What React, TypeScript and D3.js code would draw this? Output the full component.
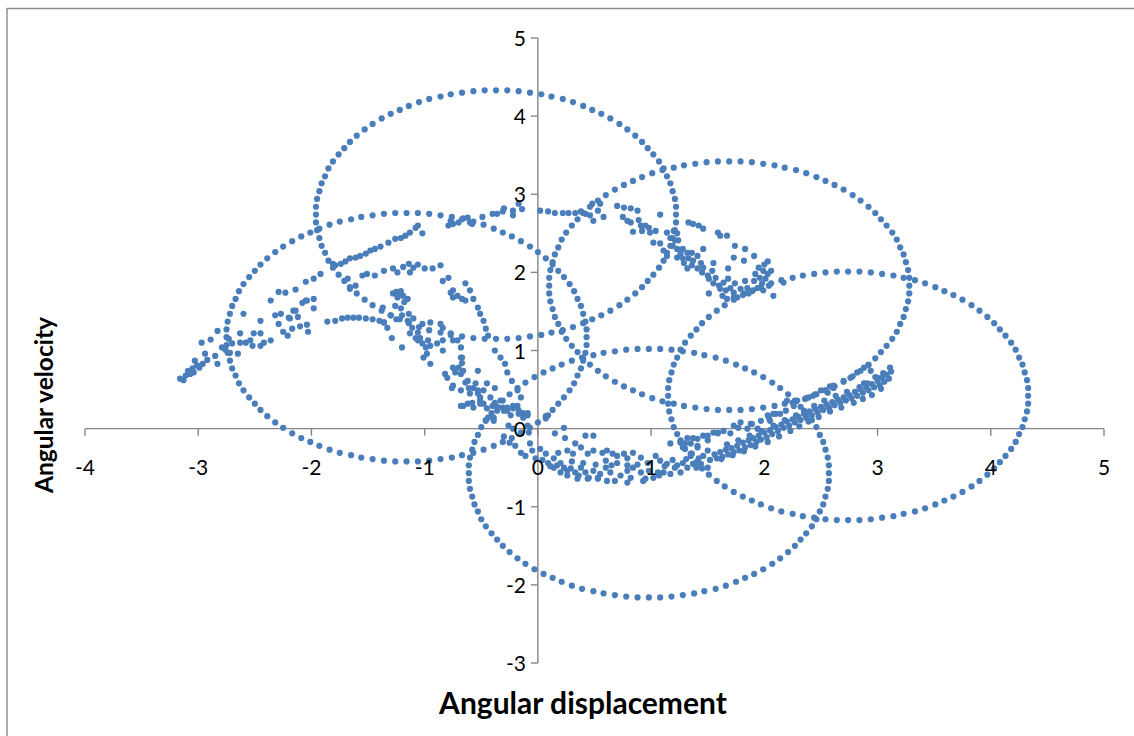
import React from "react";
import * as d3 from "d3";

// ---- axis configuration (values only) ----
const xTicks = [-4, -3, -2, -1, 0, 1, 2, 3, 4, 5];
const yTicks = [-3, -2, -1, 0, 1, 2, 3, 4, 5];
const xTitle = "Angular displacement";
const yTitle = "Angular velocity";

// ---- series: closed orbits ----
const orbitA: [number, number][] = [
  [1.22,2.74],[1.22,2.84],[1.21,2.94],[1.19,3.04],[1.17,3.14],[1.14,3.23],[1.11,3.33],[1.07,3.42],[1.02,3.51],[0.97,3.59],[0.92,3.67],[0.86,3.75],[0.79,3.83],[0.72,3.90],[0.64,3.97],[0.56,4.03],[0.48,4.08],[0.40,4.13],[0.31,4.18],[0.22,4.22],[0.12,4.25],[0.03,4.28],[-0.07,4.30],[-0.17,4.32],[-0.27,4.33],[-0.37,4.33],
  [-0.47,4.33],[-0.57,4.32],[-0.67,4.30],[-0.77,4.28],[-0.86,4.25],[-0.96,4.22],[-1.05,4.18],[-1.14,4.13],[-1.22,4.08],[-1.30,4.03],[-1.38,3.97],[-1.46,3.90],[-1.53,3.83],[-1.60,3.75],[-1.66,3.67],[-1.71,3.59],[-1.76,3.51],[-1.81,3.42],[-1.85,3.33],[-1.88,3.23],[-1.91,3.14],[-1.93,3.04],[-1.95,2.94],[-1.96,2.84],[-1.96,2.74],
  [-1.96,2.64],[-1.95,2.54],[-1.93,2.44],[-1.91,2.34],[-1.88,2.25],[-1.85,2.15],[-1.81,2.06],[-1.76,1.97],[-1.71,1.89],[-1.66,1.81],[-1.60,1.73],[-1.53,1.65],[-1.46,1.58],[-1.38,1.51],[-1.30,1.45],[-1.22,1.40],[-1.14,1.35],[-1.05,1.30],[-0.96,1.26],[-0.86,1.23],[-0.77,1.20],[-0.67,1.18],[-0.57,1.16],[-0.47,1.15],[-0.37,1.15],
  [-0.27,1.15],[-0.17,1.16],[-0.07,1.18],[0.03,1.20],[0.12,1.23],[0.22,1.26],[0.31,1.30],[0.40,1.35],[0.48,1.40],[0.56,1.45],[0.64,1.51],[0.72,1.58],[0.79,1.65],[0.86,1.73],[0.92,1.81],[0.97,1.89],[1.02,1.97],[1.07,2.06],[1.11,2.15],[1.14,2.25],[1.17,2.34],[1.19,2.44],[1.21,2.54],[1.22,2.64],
];
const orbitB: [number, number][] = [
  [0.43,1.17],[0.43,1.27],[0.42,1.37],[0.40,1.47],[0.38,1.57],[0.35,1.66],[0.32,1.76],[0.28,1.85],[0.23,1.94],[0.18,2.02],[0.13,2.10],[0.07,2.18],[0.00,2.26],[-0.07,2.33],[-0.15,2.40],[-0.23,2.46],[-0.31,2.51],[-0.39,2.56],[-0.48,2.61],[-0.57,2.65],[-0.67,2.68],[-0.76,2.71],[-0.86,2.73],[-0.96,2.75],[-1.06,2.76],[-1.16,2.76],
  [-1.26,2.76],[-1.36,2.75],[-1.46,2.73],[-1.56,2.71],[-1.65,2.68],[-1.75,2.65],[-1.84,2.61],[-1.93,2.56],[-2.01,2.51],[-2.09,2.46],[-2.17,2.40],[-2.25,2.33],[-2.32,2.26],[-2.39,2.18],[-2.45,2.10],[-2.50,2.02],[-2.55,1.94],[-2.60,1.85],[-2.64,1.76],[-2.67,1.66],[-2.70,1.57],[-2.72,1.47],[-2.74,1.37],[-2.75,1.27],[-2.75,1.17],
  [-2.75,1.07],[-2.74,0.97],[-2.72,0.87],[-2.70,0.77],[-2.67,0.68],[-2.64,0.58],[-2.60,0.49],[-2.55,0.40],[-2.50,0.32],[-2.45,0.24],[-2.39,0.16],[-2.32,0.08],[-2.25,0.01],[-2.17,-0.06],[-2.09,-0.12],[-2.01,-0.17],[-1.93,-0.22],[-1.84,-0.27],[-1.75,-0.31],[-1.65,-0.34],[-1.56,-0.37],[-1.46,-0.39],[-1.36,-0.41],[-1.26,-0.42],[-1.16,-0.42],
  [-1.06,-0.42],[-0.96,-0.41],[-0.86,-0.39],[-0.76,-0.37],[-0.67,-0.34],[-0.57,-0.31],[-0.48,-0.27],[-0.39,-0.22],[-0.31,-0.17],[-0.23,-0.12],[-0.15,-0.06],[-0.07,0.01],[0.00,0.08],[0.07,0.16],[0.13,0.24],[0.18,0.32],[0.23,0.40],[0.28,0.49],[0.32,0.58],[0.35,0.68],[0.38,0.77],[0.40,0.87],[0.42,0.97],[0.43,1.07],
];
const orbitC: [number, number][] = [
  [3.28,1.83],[3.28,1.93],[3.27,2.03],[3.25,2.13],[3.23,2.23],[3.20,2.32],[3.17,2.42],[3.13,2.51],[3.08,2.60],[3.03,2.68],[2.98,2.76],[2.92,2.84],[2.85,2.92],[2.78,2.99],[2.70,3.06],[2.62,3.12],[2.54,3.17],[2.46,3.22],[2.37,3.27],[2.28,3.31],[2.18,3.34],[2.09,3.37],[1.99,3.39],[1.89,3.41],[1.79,3.42],[1.69,3.42],
  [1.59,3.42],[1.49,3.41],[1.39,3.39],[1.29,3.37],[1.20,3.34],[1.10,3.31],[1.01,3.27],[0.92,3.22],[0.84,3.17],[0.76,3.12],[0.68,3.06],[0.60,2.99],[0.53,2.92],[0.46,2.84],[0.40,2.76],[0.35,2.68],[0.30,2.60],[0.25,2.51],[0.21,2.42],[0.18,2.32],[0.15,2.23],[0.13,2.13],[0.11,2.03],[0.10,1.93],[0.10,1.83],
  [0.10,1.73],[0.11,1.63],[0.13,1.53],[0.15,1.43],[0.18,1.34],[0.21,1.24],[0.25,1.15],[0.30,1.06],[0.35,0.98],[0.40,0.90],[0.46,0.82],[0.53,0.74],[0.60,0.67],[0.68,0.60],[0.76,0.54],[0.84,0.49],[0.92,0.44],[1.01,0.39],[1.10,0.35],[1.20,0.32],[1.29,0.29],[1.39,0.27],[1.49,0.25],[1.59,0.24],[1.69,0.24],
  [1.79,0.24],[1.89,0.25],[1.99,0.27],[2.09,0.29],[2.18,0.32],[2.28,0.35],[2.37,0.39],[2.46,0.44],[2.54,0.49],[2.62,0.54],[2.70,0.60],[2.78,0.67],[2.85,0.74],[2.92,0.82],[2.98,0.90],[3.03,0.98],[3.08,1.06],[3.13,1.15],[3.17,1.24],[3.20,1.34],[3.23,1.43],[3.25,1.53],[3.27,1.63],[3.28,1.73],
];
const orbitD: [number, number][] = [
  [4.33,0.42],[4.33,0.52],[4.32,0.62],[4.30,0.72],[4.28,0.82],[4.25,0.91],[4.22,1.01],[4.18,1.10],[4.13,1.19],[4.08,1.27],[4.03,1.35],[3.97,1.43],[3.90,1.51],[3.83,1.58],[3.75,1.65],[3.67,1.71],[3.59,1.76],[3.51,1.81],[3.42,1.86],[3.33,1.90],[3.23,1.93],[3.14,1.96],[3.04,1.98],[2.94,2.00],[2.84,2.01],[2.74,2.01],
  [2.64,2.01],[2.54,2.00],[2.44,1.98],[2.34,1.96],[2.25,1.93],[2.15,1.90],[2.06,1.86],[1.97,1.81],[1.89,1.76],[1.81,1.71],[1.73,1.65],[1.65,1.58],[1.58,1.51],[1.51,1.43],[1.45,1.35],[1.40,1.27],[1.35,1.19],[1.30,1.10],[1.26,1.01],[1.23,0.91],[1.20,0.82],[1.18,0.72],[1.16,0.62],[1.15,0.52],[1.15,0.42],
  [1.15,0.32],[1.16,0.22],[1.18,0.12],[1.20,0.02],[1.23,-0.07],[1.26,-0.17],[1.30,-0.26],[1.35,-0.35],[1.40,-0.43],[1.45,-0.51],[1.51,-0.59],[1.58,-0.67],[1.65,-0.74],[1.73,-0.81],[1.81,-0.87],[1.89,-0.92],[1.97,-0.97],[2.06,-1.02],[2.15,-1.06],[2.25,-1.09],[2.34,-1.12],[2.44,-1.14],[2.54,-1.16],[2.64,-1.17],[2.74,-1.17],
  [2.84,-1.17],[2.94,-1.16],[3.04,-1.14],[3.14,-1.12],[3.23,-1.09],[3.33,-1.06],[3.42,-1.02],[3.51,-0.97],[3.59,-0.92],[3.67,-0.87],[3.75,-0.81],[3.83,-0.74],[3.90,-0.67],[3.97,-0.59],[4.03,-0.51],[4.08,-0.43],[4.13,-0.35],[4.18,-0.26],[4.22,-0.17],[4.25,-0.07],[4.28,0.02],[4.30,0.12],[4.32,0.22],[4.33,0.32],
];
const orbitE: [number, number][] = [
  [2.57,-0.57],[2.57,-0.47],[2.56,-0.37],[2.54,-0.27],[2.52,-0.17],[2.49,-0.08],[2.46,0.02],[2.42,0.11],[2.37,0.20],[2.32,0.28],[2.27,0.36],[2.21,0.44],[2.14,0.52],[2.07,0.59],[1.99,0.66],[1.91,0.72],[1.83,0.77],[1.75,0.82],[1.66,0.87],[1.57,0.91],[1.47,0.94],[1.38,0.97],[1.28,0.99],[1.18,1.01],[1.08,1.02],[0.98,1.02],
  [0.88,1.02],[0.78,1.01],[0.68,0.99],[0.58,0.97],[0.49,0.94],[0.39,0.91],[0.30,0.87],[0.21,0.82],[0.13,0.77],[0.05,0.72],[-0.03,0.66],[-0.11,0.59],[-0.18,0.52],[-0.25,0.44],[-0.31,0.36],[-0.36,0.28],[-0.41,0.20],[-0.46,0.11],[-0.50,0.02],[-0.53,-0.08],[-0.56,-0.17],[-0.58,-0.27],[-0.60,-0.37],[-0.61,-0.47],[-0.61,-0.57],
  [-0.61,-0.67],[-0.60,-0.77],[-0.58,-0.87],[-0.56,-0.97],[-0.53,-1.06],[-0.50,-1.16],[-0.46,-1.25],[-0.41,-1.34],[-0.36,-1.42],[-0.31,-1.50],[-0.25,-1.58],[-0.18,-1.66],[-0.11,-1.73],[-0.03,-1.80],[0.05,-1.86],[0.13,-1.91],[0.21,-1.96],[0.30,-2.01],[0.39,-2.05],[0.49,-2.08],[0.58,-2.11],[0.68,-2.13],[0.78,-2.15],[0.88,-2.16],[0.98,-2.16],
  [1.08,-2.16],[1.18,-2.15],[1.28,-2.13],[1.38,-2.11],[1.47,-2.08],[1.57,-2.05],[1.66,-2.01],[1.75,-1.96],[1.83,-1.91],[1.91,-1.86],[1.99,-1.80],[2.07,-1.73],[2.14,-1.66],[2.21,-1.58],[2.27,-1.50],[2.32,-1.42],[2.37,-1.34],[2.42,-1.25],[2.46,-1.16],[2.49,-1.06],[2.52,-0.97],[2.54,-0.87],[2.56,-0.77],[2.57,-0.67],
];

// ---- series: chaotic trajectory, split by region ----
const tailPts: [number, number][] = [
  [-3.16,0.64],[-3.13,0.62],[-3.11,0.68],[-3.09,0.74],[-3.07,0.70],[-3.05,0.77],[-3.04,0.72],[-3.01,0.81],[-2.99,0.78],[-2.96,0.83],[-3.03,0.87],[-2.94,0.96],[-2.92,0.88],[-2.97,1.10],[-2.89,1.14],[-2.85,0.93],[-2.83,1.25],[-2.83,0.83],[-2.79,1.04],[-2.76,1.01],[-2.73,1.15],[-2.72,0.97],[-2.70,1.09],[-2.65,0.96],[-2.63,1.10],[-2.58,1.10],[-2.54,1.13],[-2.51,1.22],[-2.52,1.06],[-2.45,1.22],[-2.45,1.06],[-2.42,1.10],[-2.36,1.13],[-2.45,1.38],[-2.63,1.22],[-2.29,1.34],[-2.32,1.45],[-2.27,1.47],[-2.16,1.51],[-2.12,1.43],[-2.19,1.41],[-2.25,1.24],[-2.21,1.19],[-2.17,1.28],[-2.10,1.31],[-2.04,1.33],[-2.03,1.24],[-1.98,1.54],[-1.86,1.37],[-1.79,1.38],[-1.73,1.41],[-1.68,1.42],[-1.63,1.42],[-2.08,1.61],[-2.04,1.64],[-2.60,1.47],[-1.58,1.42],[-1.52,1.41],[-1.46,1.40],[-1.40,1.38],[-1.36,1.36],
];
const upperBandPts: [number, number][] = [
  [-2.36,1.64],[-2.29,1.75],[-2.23,1.74],[-2.14,1.78],[-2.05,1.88],[-1.98,1.92],[-1.92,1.98],[-1.81,2.11],[-1.79,2.09],[-1.74,2.11],[-1.70,2.14],[-1.66,2.18],[-1.61,2.19],[-1.57,2.21],[-1.52,2.24],[-1.48,2.28],[-1.44,2.30],[-1.39,2.33],[-1.32,2.38],[-1.26,2.43],[-1.21,2.44],[-1.17,2.47],[-1.13,2.51],[-1.08,2.57],[-1.06,2.60],[-1.02,2.50],[-0.79,2.60],[-0.75,2.62],[-0.70,2.64],[-0.66,2.69],[-0.62,2.70],[-0.60,2.64],[-0.58,2.62],[-0.77,2.66],[-0.49,2.71],[-0.40,2.75],[-0.36,2.75],[-0.31,2.78],[-0.30,2.82],[-0.22,2.79],[-0.17,2.88],[-0.14,2.81],[-0.22,2.73],[-1.98,1.66],[-2.05,1.64],[-2.14,1.51],[-2.20,1.42],
  [0.02,2.79],[0.09,2.78],[0.15,2.76],[0.22,2.76],[0.27,2.76],[0.33,2.76],[0.38,2.78],[0.42,2.75],[0.46,2.73],[0.49,2.66],[0.48,2.88],[0.53,2.79],[0.55,2.88],[0.58,2.71],[0.70,2.85],[0.76,2.83],[0.82,2.82],[0.88,2.79],[0.75,2.71],[0.79,2.66],[0.82,2.64],[0.89,2.67],[0.91,2.60],[0.92,2.53],[0.95,2.60],[0.98,2.57],[0.99,2.51],[1.04,2.53],[0.84,2.52],[1.08,2.74],[1.02,2.38],
];
const topRightPts: [number, number][] = [
  [1.14,2.51],[1.17,2.44],[1.20,2.53],[1.23,2.50],[1.21,2.41],[1.24,2.41],[1.08,2.37],[1.11,2.28],[1.14,2.21],[1.19,2.34],[1.23,2.30],[1.26,2.24],[1.28,2.30],[1.28,2.18],[1.32,2.25],[1.33,2.18],[1.36,2.25],[1.37,2.15],[1.36,2.09],[1.41,2.21],[1.41,2.05],[1.44,2.12],[1.45,2.00],[1.46,2.06],[1.50,1.96],[1.51,1.92],[1.54,2.02],[1.55,2.12],[1.57,1.93],[1.55,1.86],[1.60,1.83],[1.61,1.79],[1.64,1.87],[1.66,1.77],[1.68,1.92],[1.70,1.80],[1.73,1.74],[1.74,1.86],[1.76,1.68],[1.79,1.79],[1.82,1.73],[1.83,1.89],[1.85,1.80],[1.86,1.73],[1.90,1.77],[1.91,1.89],[1.92,1.98],[1.94,1.80],[1.95,2.06],[1.96,1.93],[1.98,1.86],[1.99,2.02],[2.01,1.92],[2.03,1.98],[2.04,1.83],[1.99,1.77],[2.08,1.70],[2.17,1.87],[1.82,2.15],[1.83,2.30],[1.74,2.34],[1.73,2.19],[1.68,2.05],[1.91,2.21],[1.59,2.51],[1.61,2.47],[1.67,2.47],[1.46,2.30],[1.33,2.64],[1.37,2.62],[1.42,2.60],[1.46,2.56],[1.51,1.73],[1.63,1.70],[1.67,1.66],[1.73,1.68],[1.29,2.12],[1.32,2.05],[1.23,2.19],[2.03,2.14],[2.00,2.10],[2.06,2.02],
];
const middleArcPts: [number, number][] = [
  [-1.68,1.92],[-1.66,1.79],[-1.61,1.83],[-1.55,1.96],[-1.51,1.98],[-1.44,1.96],[-1.36,2.02],[-1.28,2.05],[-1.24,2.00],[-1.19,2.07],[-1.14,2.11],[-1.10,2.06],[-1.13,2.00],[-1.06,2.10],[-1.00,2.05],[-0.93,2.05],[-0.86,2.09],[-0.84,1.89],[-0.79,1.93],[-0.75,1.77],[-0.71,1.70],[-0.64,1.86],[-0.60,1.77],[-0.57,1.66],[-0.53,1.55],[-0.51,1.47],[-0.48,1.38],[-0.46,1.28],[-0.44,1.19],[-0.38,1.00],[-0.33,0.91],[-0.29,0.83],[-0.27,0.72],[-0.23,0.61],[-0.18,0.49],[-0.15,0.40],[-0.77,1.74],[-0.75,1.68],[-0.67,1.66],[-0.64,1.64],
];
const leftClusterPts: [number, number][] = [
  [-1.28,1.73],[-1.23,1.70],[-1.19,1.70],[-1.15,1.66],[-1.26,1.57],[-1.21,1.54],[-1.20,1.45],[-1.15,1.38],[-1.14,1.47],[-1.10,1.41],[-1.11,1.29],[-1.06,1.23],[-1.04,1.16],[-1.02,1.09],[-0.99,1.04],[-0.97,1.13],[-0.95,1.06],[-0.98,0.96],[-0.95,0.83],[-1.01,0.91],[-1.13,1.22],[-1.08,1.16],[-1.06,1.13],[-1.20,1.04],[-1.29,1.16],[-1.36,1.36],[-1.33,1.29],[-1.37,1.55],[-0.84,1.00],[-0.82,0.70],[-0.75,0.55],[-0.77,1.22],[-0.71,1.13],[-0.86,1.34],[-0.84,1.29],[-0.95,1.36],[-1.02,1.34],[-1.25,1.75],[-1.21,1.76],[-1.24,1.68],[-1.18,1.62],[-1.30,1.45],[-1.25,1.40],[-0.89,1.09],[-0.84,1.13],[-0.75,1.13],[-0.68,1.04],[-0.67,0.91],[-0.75,0.78],[-0.68,0.70],[-0.62,0.61],[-0.57,0.52],[-0.53,0.45],[-0.51,0.36],
];
const originPts: [number, number][] = [
  [-0.68,0.91],[-0.67,0.84],[-0.70,0.78],[-0.66,0.74],[-0.73,0.72],[-0.80,0.65],[-0.76,0.52],[-0.68,0.49],[-0.64,0.59],[-0.61,0.52],[-0.60,0.45],[-0.55,0.58],[-0.53,0.49],[-0.53,0.74],[-0.51,0.40],[-0.48,0.49],[-0.45,0.58],[-0.42,0.40],[-0.38,0.52],[-0.38,0.33],[-0.35,0.27],[-0.33,0.36],[-0.30,0.23],[-0.27,0.27],[-0.24,0.17],[-0.22,0.26],[-0.18,0.29],[-0.17,0.19],[-0.13,0.14],[-0.09,0.20],[-0.44,0.14],[-0.39,0.10],[-0.48,0.32],[-0.66,0.29],[-0.58,0.33],
  [-0.68,0.29],[-0.62,0.32],[-0.57,0.27],[-0.51,0.32],[-0.45,0.26],[-0.40,0.29],[-0.36,0.23],[-0.31,0.27],[-0.27,0.23],[-0.22,0.29],[-0.17,0.23],[-0.13,0.20],[-0.09,0.17],[-0.46,0.10],[-0.39,0.14],[-0.26,0.04],[-0.22,0.00],[-0.09,0.04],[-0.08,-0.05],[-0.15,-0.05],[-0.30,-0.10],[-0.25,-0.18],[-0.20,-0.22],
];
const bottomBandPts: [number, number][] = [
  [-0.15,-0.31],[-0.11,-0.35],[-0.07,-0.19],[-0.05,-0.28],[-0.02,-0.38],[0.02,-0.26],[0.07,-0.32],[0.09,-0.44],[0.14,-0.38],[0.17,-0.47],[0.20,-0.44],[0.23,-0.50],[0.26,-0.54],[0.29,-0.51],[0.33,-0.56],[0.36,-0.60],[0.38,-0.50],[0.42,-0.56],[0.45,-0.63],[0.49,-0.54],[0.53,-0.64],[0.55,-0.58],[0.60,-0.50],[0.64,-0.56],[0.68,-0.67],[0.61,-0.67],[0.73,-0.60],[0.79,-0.54],[0.82,-0.63],[0.84,-0.50],[0.91,-0.56],[0.95,-0.64],[0.98,-0.54],[1.02,-0.63],[1.07,-0.60],[1.11,-0.56],[1.14,-0.45],[1.17,-0.58],[1.21,-0.50],[1.26,-0.56],[1.28,-0.44],[1.32,-0.50],[1.37,-0.45],[1.42,-0.38],[1.46,-0.35],[1.50,-0.50],
  [0.18,-0.31],[0.26,-0.28],[0.31,-0.32],[0.38,-0.24],[0.44,-0.32],[0.49,-0.28],[0.57,-0.31],[0.61,-0.28],[0.66,-0.32],[0.70,-0.35],[0.76,-0.32],[0.79,-0.38],[0.84,-0.31],[0.91,-0.37],[1.04,-0.35],[1.08,-0.41],[0.24,-0.12],[0.33,-0.19],[0.42,-0.09],[0.49,-0.09],[0.60,-0.41],[0.70,-0.44],[0.79,-0.47],[0.14,-0.50],[0.20,-0.56],[0.26,-0.60],[0.35,-0.64],[0.44,-0.64],[0.53,-0.63],[0.79,-0.69],[0.93,-0.67],[1.06,-0.56],[1.23,-0.47],[1.35,-0.32],[1.41,-0.22],[1.35,-0.19],[1.28,-0.24],[1.26,-0.18],[1.44,-0.45],[1.50,-0.28],[0.15,-0.06],[0.23,0.01],[0.07,0.13],[0.09,0.17],
  [0.04,-0.40],[0.11,-0.48],[0.30,-0.42],[0.40,-0.44],[0.51,-0.46],[0.65,-0.47],[0.88,-0.46],[0.97,-0.44],[1.12,-0.48],[1.19,-0.40],[1.31,-0.39],[1.40,-0.50],
];
const risingBandPts: [number, number][] = [
  [1.52,-0.40],[1.56,-0.33],[1.58,-0.38],[1.61,-0.30],[1.63,-0.36],[1.66,-0.27],[1.68,-0.33],[1.71,-0.25],[1.73,-0.30],[1.76,-0.22],[1.78,-0.28],[1.81,-0.18],[1.83,-0.24],[1.86,-0.15],[1.88,-0.21],[1.90,-0.12],[1.93,-0.17],[1.95,-0.09],[1.97,-0.14],[2.00,-0.05],[2.02,-0.11],[2.05,-0.02],[2.07,-0.07],[2.10,0.02],[2.12,-0.03],[2.15,0.05],[2.17,0.01],[2.20,0.09],[2.22,0.04],[2.25,0.12],[2.27,0.08],[2.30,0.15],[2.32,0.11],[2.35,0.19],[2.37,0.14],[2.40,0.22],[2.42,0.17],[2.45,0.25],[2.47,0.21],[2.50,0.28],[2.52,0.24],[2.55,0.31],[2.57,0.27],[2.60,0.34],[2.62,0.30],[2.65,0.37],[2.67,0.33],[2.70,0.40],[2.72,0.36],[2.75,0.43],[2.77,0.39],[2.80,0.47],[2.82,0.42],[2.85,0.50],[2.87,0.46],[2.90,0.53],[2.92,0.49],[2.95,0.57],[2.97,0.53],[3.00,0.61],[3.02,0.56],[3.04,0.65],[3.06,0.60],[3.08,0.69],[3.10,0.64],[3.12,0.73],[3.11,0.78],[3.05,0.71],[2.98,0.66],[2.88,0.58],
  [1.62,-0.39],[1.72,-0.34],[1.82,-0.29],[1.92,-0.23],[2.03,-0.17],[2.13,-0.10],[2.23,-0.03],[2.31,0.03],[2.39,0.09],[2.48,0.15],[2.58,0.22],[2.68,0.27],[2.79,0.33],[2.87,0.38],[2.95,0.43],[3.03,0.51],
  [1.67,-0.20],[1.77,-0.15],[1.87,-0.09],[1.97,-0.03],[2.08,0.04],[2.18,0.11],[2.28,0.17],[2.35,0.23],[2.44,0.29],[2.53,0.36],[2.63,0.42],[2.73,0.47],[2.84,0.53],[2.91,0.58],[3.00,0.65],
  [2.14,0.19],[2.19,0.23],[2.25,0.33],[2.29,0.36],[2.36,0.38],[2.39,0.40],[2.45,0.44],[2.54,0.49],[2.58,0.54],[2.61,0.55],[2.70,0.61],[2.76,0.65],[2.82,0.72],[2.88,0.78],[2.92,0.81],[2.94,0.74],[2.20,0.36],[2.26,0.29],[2.43,0.42],[2.50,0.49],[2.56,0.46],[2.61,0.52],[1.88,0.06],[1.97,0.10],[2.04,0.14],[2.08,0.19],
  [1.30,-0.19],[1.37,-0.12],[1.46,-0.09],[1.55,-0.05],[1.59,-0.06],[1.50,-0.15],[1.41,-0.24],[1.36,-0.32],[1.70,-0.06],[1.77,0.01],[1.85,0.00],[1.89,0.06],[1.94,0.00],[2.03,0.17],[2.05,0.10],[2.10,0.19],[1.17,-0.19],[1.26,-0.15],[1.32,-0.12],[1.41,-0.13],[1.50,-0.09],[1.59,-0.05],[1.64,-0.03],[1.73,0.04],[1.79,0.08],
];

const seriesColor = "#4A7EBB";
const axisColor = "#868686";
const FONT = "Lato, 'Open Sans', sans-serif";

export default function App() {
  const W = 1134;
  const H = 736;
  const x = d3.scaleLinear().domain([-4, 5]).range([85, 1104]);
  const y = d3.scaleLinear().domain([-3, 5]).range([663, 38]);
  const x0 = x(0);
  const y0 = y(0);

  const allPts = [
    ...orbitA, ...orbitB, ...orbitC, ...orbitD, ...orbitE,
    ...tailPts, ...upperBandPts, ...topRightPts, ...middleArcPts,
    ...leftClusterPts, ...originPts, ...bottomBandPts, ...risingBandPts,
  ];

  return (
    <div style={{ position: "absolute", left: 0, top: 0 }}>
      <svg width={W} height={H} style={{ display: "block", background: "#fff" }}>
        <rect x={7} y={8.5} width={1140} height={750} fill="#fff" stroke="#898989" strokeWidth={1.4} />

        {/* axes */}
        <line x1={x(-4)} x2={x(5)} y1={y0} y2={y0} stroke={axisColor} strokeWidth={1.4} />
        <line x1={x0} x2={x0} y1={y(5)} y2={y(-3)} stroke={axisColor} strokeWidth={1.4} />
        {xTicks.map((t) => (
          <line key={"xt" + t} x1={x(t)} x2={x(t)} y1={y0} y2={y0 + 7} stroke={axisColor} strokeWidth={1.4} />
        ))}
        {yTicks.map((t) => (
          <line key={"yt" + t} x1={x0 - 7} x2={x0} y1={y(t)} y2={y(t)} stroke={axisColor} strokeWidth={1.4} />
        ))}

        {/* points */}
        <g fill={seriesColor}>
          {allPts.map((p, i) => (
            <circle key={i} cx={x(p[0])} cy={y(p[1])} r={3.1} />
          ))}
        </g>

        {/* tick labels */}
        <g fontFamily={FONT} fontSize={21} fill="#000">
          {xTicks.map((t) => (
            <text key={"xl" + t} x={x(t)} y={y0 + 46} textAnchor="middle">{t}</text>
          ))}
          {yTicks.map((t) => (
            <text key={"yl" + t} x={x0 - 12} y={y(t) + 8} textAnchor="end">{t}</text>
          ))}
        </g>

        {/* axis titles */}
        <text x={583} y={714} textAnchor="middle" fontFamily={FONT} fontWeight="bold" fontSize={30} fill="#000">
          {xTitle}
        </text>
        <text transform="translate(53,405) rotate(-90)" textAnchor="middle" fontFamily={FONT} fontWeight="bold" fontSize={24.5} fill="#000">
          {yTitle}
        </text>
      </svg>
    </div>
  );
}
